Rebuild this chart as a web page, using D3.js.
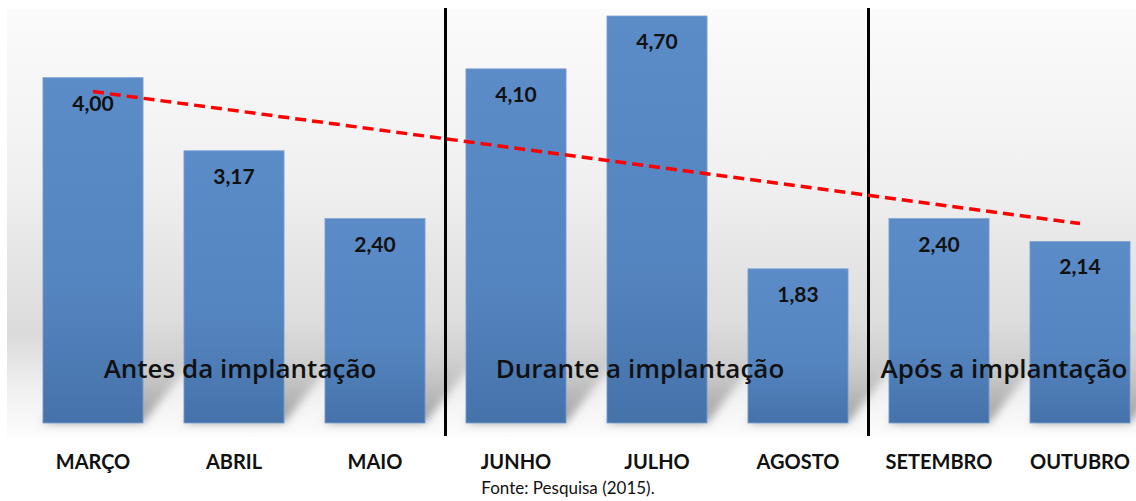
<!DOCTYPE html>
<html>
<head>
<meta charset="utf-8">
<script src="https://cdn.jsdelivr.net/npm/d3@7"></script>
<style>
  body { margin: 0; background: #fff; }
  svg { display: block; font-family: Lato, "Open Sans", sans-serif; }
  .month { font-weight: bold; font-size: 20px; fill: #111; }
  .val { font-weight: bold; font-size: 21px; fill: #111; }
  .phase { font-family: "Open Sans", sans-serif; font-weight: 600; font-size: 26px; fill: #111; }
  .fonte { font-size: 17px; fill: #111; }
</style>
</head>
<body>
<div id="chart"></div>
<script>
const months = ['MARÇO', 'ABRIL', 'MAIO', 'JUNHO', 'JULHO', 'AGOSTO', 'SETEMBRO', 'OUTUBRO'];
const values = [4.00, 3.17, 2.40, 4.10, 4.70, 1.83, 2.40, 2.14];
const phases = ['Antes da implantação', 'Durante a implantação', 'Após a implantação'];
const phaseStart = [0, 3, 6];   // index of first month in each phase
const fonte = 'Fonte: Pesquisa (2015).';

const width = 1136, height = 501;
const base = 423;

const svg = d3.select('#chart').append('svg')
  .attr('width', width).attr('height', height);

const defs = svg.append('defs');

// background panel gradient
const bg = defs.append('linearGradient').attr('id', 'bg')
  .attr('x1', 0).attr('y1', 0).attr('x2', 0).attr('y2', 1);
bg.append('stop').attr('offset', '0%').attr('stop-color', '#fbfbfb');
bg.append('stop').attr('offset', '40%').attr('stop-color', '#f0f0f0');
bg.append('stop').attr('offset', '76%').attr('stop-color', '#dbdbdb');
bg.append('stop').attr('offset', '88%').attr('stop-color', '#efefef');
bg.append('stop').attr('offset', '100%').attr('stop-color', '#fcfcfc');

const barGrad = defs.append('linearGradient').attr('id', 'barGrad')
  .attr('x1', 0).attr('y1', 0).attr('x2', 0).attr('y2', 1);
barGrad.append('stop').attr('offset', '0%').attr('stop-color', '#5b8cc8');
barGrad.append('stop').attr('offset', '60%').attr('stop-color', '#5585c0');
barGrad.append('stop').attr('offset', '100%').attr('stop-color', '#4672aa');

const shGrad = defs.append('linearGradient').attr('id', 'shGrad')
  .attr('x1', 0).attr('y1', 1).attr('x2', 0).attr('y2', 0);
shGrad.append('stop').attr('offset', '0%').attr('stop-color', '#888').attr('stop-opacity', 0.8);
shGrad.append('stop').attr('offset', '100%').attr('stop-color', '#999').attr('stop-opacity', 0);

defs.append('filter').attr('id', 'blur')
  .append('feGaussianBlur').attr('stdDeviation', 4);

svg.append('rect')
  .attr('x', 7).attr('y', 9).attr('width', width - 7).attr('height', 428)
  .attr('fill', 'url(#bg)');

// scales
const x = d3.scaleBand().domain(months).range([22.5, 1150.5])
  .paddingInner(0.29).paddingOuter(0.145);
const y = d3.scaleLinear().domain([0, 4.70]).range([430, 16]);

// diagonal shadows behind bars
svg.append('g').selectAll('polygon')
  .data(months).enter().append('polygon')
  .attr('points', d => {
    const x0 = x(d), x1 = x(d) + x.bandwidth();
    return [[x0, base], [x1, base], [x1 + 75, base - 95], [x0 + 75, base - 95]].join(' ');
  })
  .attr('fill', 'url(#shGrad)')
  .attr('filter', 'url(#blur)');

// bars
svg.append('g').selectAll('rect')
  .data(values).enter().append('rect')
  .attr('x', (d, i) => x(months[i]))
  .attr('y', d => y(d))
  .attr('width', x.bandwidth())
  .attr('height', d => base - y(d))
  .attr('fill', 'url(#barGrad)')
  .attr('stroke', '#7ea3d3')
  .attr('stroke-width', 0.8);

// value labels
svg.append('g').selectAll('text')
  .data(values).enter().append('text')
  .attr('class', 'val')
  .attr('x', (d, i) => x(months[i]) + x.bandwidth() / 2)
  .attr('y', d => y(d) + 33)
  .attr('text-anchor', 'middle')
  .text(d => d.toFixed(2).replace('.', ','));

// month labels
svg.append('g').selectAll('text')
  .data(months).enter().append('text')
  .attr('class', 'month')
  .attr('x', d => x(d) + x.bandwidth() / 2)
  .attr('y', 469)
  .attr('text-anchor', 'middle')
  .text(d => d);

// phase separators
const seps = phaseStart.slice(1).map(i => x(months[i]) - x.step() * x.paddingInner() / 2);
svg.append('g').selectAll('line')
  .data(seps).enter().append('line')
  .attr('x1', d => d).attr('x2', d => d)
  .attr('y1', 8).attr('y2', 436)
  .attr('stroke', '#000').attr('stroke-width', 3);

// linear trend (least squares over month index)
const n = values.length;
const mx = (n + 1) / 2, my = d3.mean(values);
const slope = d3.sum(values, (v, i) => (i + 1 - mx) * (v - my)) / d3.sum(values, (v, i) => (i + 1 - mx) ** 2);
const trend = i => my + slope * (i + 1 - mx);
const cx = i => x(months[i]) + x.bandwidth() / 2;

svg.append('line')
  .attr('x1', cx(0)).attr('y1', y(trend(0)))
  .attr('x2', cx(n - 1)).attr('y2', y(trend(n - 1)))
  .attr('stroke', '#ff0000').attr('stroke-width', 3.5)
  .attr('stroke-dasharray', '11,6');

// phase labels
const phaseX = [240, 640, 1004];
svg.append('g').selectAll('text')
  .data(phases).enter().append('text')
  .attr('class', 'phase')
  .attr('x', (d, i) => phaseX[i])
  .attr('y', 378)
  .attr('text-anchor', 'middle')
  .text(d => d);

svg.append('text')
  .attr('class', 'fonte')
  .attr('x', 568).attr('y', 494)
  .attr('text-anchor', 'middle')
  .text(fonte);
</script>
</body>
</html>
